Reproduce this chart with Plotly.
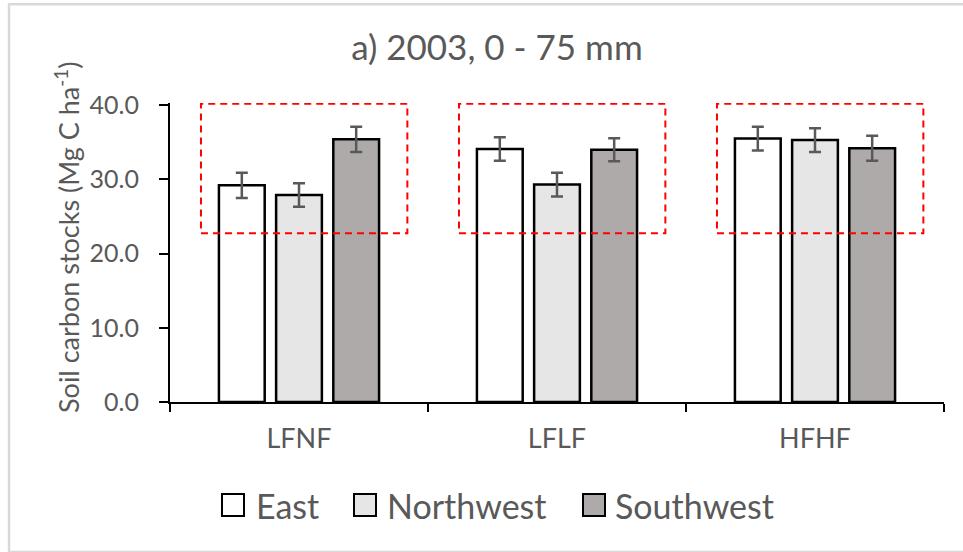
import plotly.graph_objects as go

categories = ["LFNF", "LFLF", "HFHF"]
series_names = ["East", "Northwest", "Southwest"]
east = [29.2, 34.1, 35.5]
northwest = [27.9, 29.3, 35.3]
southwest = [35.4, 34.0, 34.2]
east_err = [1.7, 1.6, 1.6]
northwest_err = [1.6, 1.6, 1.6]
southwest_err = [1.7, 1.55, 1.7]
y_ticks = [0, 10, 20, 30, 40]

values = [east, northwest, southwest]
errors = [east_err, northwest_err, southwest_err]
fills = ["#FFFFFF", "#E7E6E6", "#AEAAAA"]

FONT = "Lato"
GREY = "#595959"

# plot-area placement (pixels)
M_L, M_R, M_T, M_B = 170, 19, 103, 150

fig = go.Figure()
for name, vals, errs, col in zip(series_names, values, errors, fills):
    fig.add_trace(go.Bar(
        x=categories, y=vals, name=name, showlegend=False,
        marker=dict(color=col, line=dict(color="black", width=2.5)),
        error_y=dict(type="data", array=errs, visible=True,
                     color=GREY, thickness=2.5, width=6),
    ))

# red dashed highlight boxes around each group
for i, _ in enumerate(categories):
    fig.add_shape(type="rect", xref="x", yref="y",
                  x0=i - 0.38, x1=i + 0.42, y0=22.75, y1=40.2,
                  line=dict(color="#FF0000", width=2, dash="7px,5px"),
                  fillcolor="rgba(0,0,0,0)", layer="above")

# chart-area border
fig.add_shape(type="rect", xref="paper", yref="paper",
              x0=-0.208, x1=1.1, y0=-0.502, y1=1.33,
              line=dict(color="#D9D9D9", width=2.5), layer="below")

# legend (drawn manually so the swatches and spacing match the original)
legend_square_left = [222, 354, 583]   # px from figure left
legend_text_left = [254, 385, 613]
legend_center_y = 505                  # px from figure top
sq = 22
for name, col, sx, tx in zip(series_names, fills, legend_square_left, legend_text_left):
    fig.add_shape(type="rect", xref="paper", yref="paper",
                  xsizemode="pixel", ysizemode="pixel",
                  xanchor=0, yanchor=0,
                  x0=sx - M_L, x1=sx + sq - M_L,
                  y0=(552 - M_B) - legend_center_y - sq / 2,
                  y1=(552 - M_B) - legend_center_y + sq / 2,
                  fillcolor=col, line=dict(color="black", width=2))
    fig.add_annotation(text=name, xref="paper", yref="paper", x=0, y=0,
                       xanchor="left", yanchor="middle", showarrow=False,
                       xshift=tx - M_L, yshift=(552 - M_B) - legend_center_y,
                       font=dict(family=FONT, size=34, color=GREY))

# y-axis title
fig.add_annotation(text="Soil carbon stocks (Mg C ha<sup>-1</sup>)",
                   xref="paper", yref="paper", x=0, y=0, textangle=-90,
                   xanchor="center", yanchor="middle", showarrow=False,
                   xshift=67 - M_L, yshift=(552 - M_B) - 238,
                   font=dict(family=FONT, size=27, color=GREY))

fig.update_layout(
    width=963, height=552,
    margin=dict(l=M_L, r=M_R, t=M_T, b=M_B),
    paper_bgcolor="white", plot_bgcolor="white",
    font=dict(family=FONT, color=GREY),
    showlegend=False,
    barmode="group", bargap=0.335, bargroupgap=0.2,
    title=dict(text="a) 2003, 0 - 75 mm", x=0.516, xref="container",
               xanchor="center", y=0.913, yref="container", yanchor="middle",
               font=dict(family=FONT, size=35, color=GREY)),
    xaxis=dict(type="category", showline=True, linecolor="black", linewidth=2,
               ticks="outside", tickson="boundaries", ticklen=8,
               tickwidth=2, tickcolor="black", showgrid=False,
               tickfont=dict(family=FONT, size=27, color=GREY),
               ticklabelstandoff=12),
    yaxis=dict(range=[0, 40.3], tickvals=y_ticks, tickformat=".1f",
               showline=True, linecolor="black", linewidth=2,
               ticks="outside", ticklen=9, tickwidth=2, tickcolor="black",
               showgrid=False, zeroline=False,
               tickfont=dict(family=FONT, size=25, color=GREY),
               ticklabelstandoff=15),
)

fig.write_html("out.html")
